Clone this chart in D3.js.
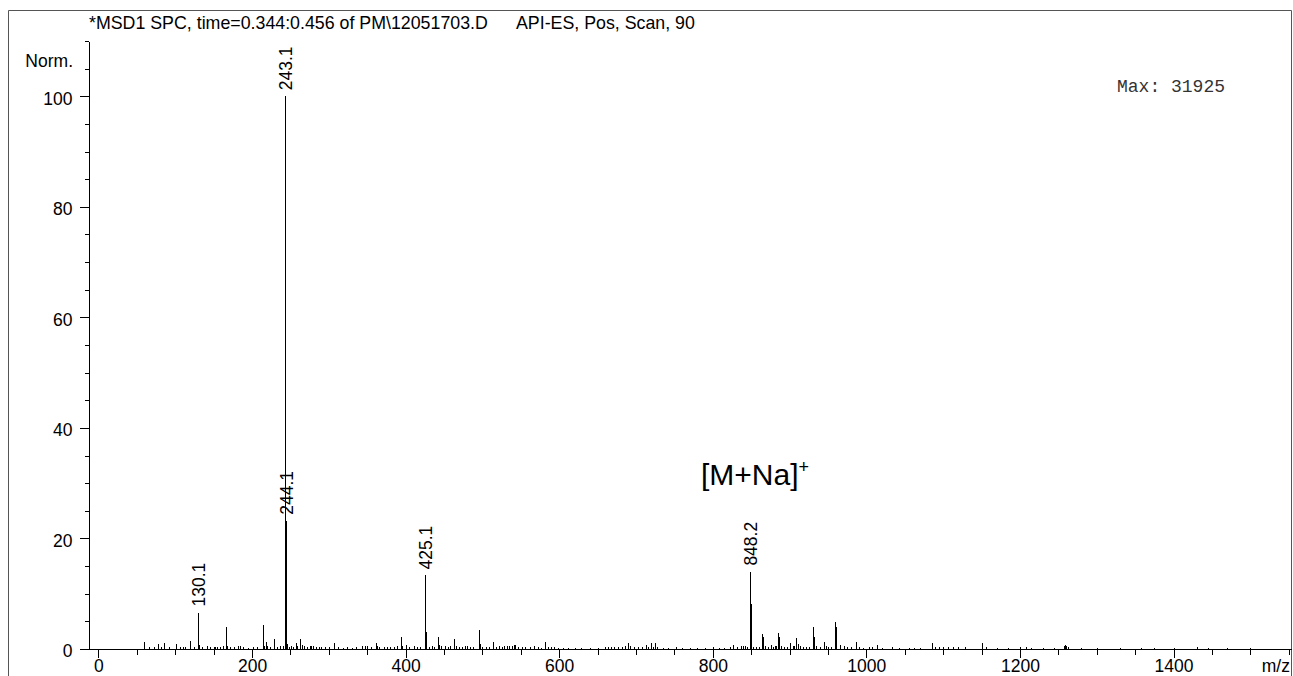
<!DOCTYPE html>
<html>
<head>
<meta charset="utf-8">
<script src="https://cdn.jsdelivr.net/npm/d3@7"></script>
<style>
  html, body { margin: 0; padding: 0; background: #fff; }
  svg { display: block; font-family: Arial, "Liberation Sans", sans-serif; }
</style>
</head>
<body>
<svg id="chart" width="1293" height="676"></svg>
<script>
// spectrum peaks, m/z and normalised abundance (% of base peak)
const peakMz = [
  59, 66, 72, 77, 81, 86, 92, 101, 106, 110, 113, 119, 124, 130.1, 131.1, 135, 141.6, 145, 150, 152,
  155, 158, 162, 166, 167, 171, 176, 182, 184, 188, 195, 201, 206, 214, 215, 217.6, 220, 224, 228, 232,
  236, 240, 243.1, 244.1, 245.1, 248, 251, 253, 256.7, 259, 262, 263, 265, 268, 271, 275, 277, 280, 283, 287,
  290, 295, 300, 306.6, 312, 318, 324, 330, 336, 343, 347, 350, 355, 361, 363, 366, 372, 376, 380, 385,
  389, 393.5, 395, 400, 404, 411, 415, 419, 425.1, 426.1, 430, 434, 437, 442, 443, 446, 451, 455, 458, 463.5,
  465, 470, 474, 477, 480, 484, 488, 495.5, 496.5, 500, 505, 509, 514, 518, 522, 525, 528, 532, 535, 538,
  541, 543, 546, 551, 556, 562, 567, 572, 576, 581, 585, 590, 593, 598, 605, 612, 620, 628, 640, 651,
  660, 664, 667, 672, 677, 682, 686, 690, 692, 697, 703, 708, 712.7, 716, 719, 722, 724.5, 728, 735, 742,
  752, 760, 770, 780, 790, 800, 808, 815, 822, 827, 832, 836.5, 839, 842, 845, 848.2, 849.2, 850.2, 852, 856,
  860, 864.6, 866, 868, 872, 876, 878, 880.6, 883, 885.4, 886.7, 889, 893, 897, 901, 904, 906, 908, 909, 911,
  914, 917, 921, 925, 930.5, 931.8, 935, 940, 945, 947, 950, 954, 958.7, 960, 961, 965.5, 970.6, 975, 980, 987,
  991, 995, 1004, 1008, 1014, 1020, 1033, 1042, 1055, 1062, 1070, 1085, 1090, 1095, 1100, 1106, 1113, 1120, 1128, 1151,
  1156, 1170, 1185, 1200, 1208, 1215, 1230, 1245, 1258, 1259, 1260, 1262, 1280, 1300, 1330, 1358, 1375, 1400, 1430, 1445,
  1470, 1500
];
const peakAbund = [
  1.2, 0.3, 0.4, 0.85, 0.3, 1.0, 0.3, 0.85, 0.3, 0.4, 0.3, 1.5, 0.3, 6.6, 0.8, 0.3, 0.5, 0.3, 0.3, 0.4,
  0.4, 0.4, 0.5, 3.9, 0.6, 0.3, 0.3, 0.5, 0.5, 0.3, 0.2, 0.3, 0.3, 4.3, 0.5, 1.3, 0.5, 0.3, 1.8, 0.3,
  0.5, 0.5, 100, 23.2, 0.9, 0.4, 0.5, 0.4, 1.0, 0.5, 1.8, 0.8, 0.8, 0.5, 0.4, 0.5, 0.5, 0.5, 0.4, 0.4,
  0.3, 0.4, 0.3, 1.0, 0.3, 0.2, 0.3, 0.2, 0.3, 0.5, 0.6, 0.5, 0.3, 1.1, 0.5, 0.3, 0.3, 0.4, 0.3, 0.3,
  0.5, 2.2, 0.5, 0.7, 0.3, 0.6, 0.3, 0.3, 13.3, 3.1, 0.3, 0.5, 0.4, 2.2, 0.8, 0.5, 0.5, 0.3, 0.5, 1.8,
  0.6, 0.3, 0.3, 0.5, 0.5, 0.3, 0.3, 3.5, 0.9, 0.3, 0.3, 0.4, 1.2, 0.4, 0.5, 0.4, 0.6, 0.5, 0.6, 0.5,
  0.8, 0.8, 0.4, 0.3, 0.3, 0.3, 0.5, 0.3, 0.2, 1.3, 0.3, 0.3, 0.3, 0.2, 0.2, 0.2, 0.2, 0.2, 0.2, 0.2,
  0.3, 0.4, 0.4, 0.3, 0.3, 0.4, 0.5, 1.0, 0.5, 0.3, 0.3, 0.4, 0.7, 0.4, 1.0, 0.4, 1.0, 0.3, 0.2, 0.2,
  0.3, 0.2, 0.2, 0.2, 0.2, 0.3, 0.2, 0.2, 0.3, 0.8, 0.3, 0.5, 0.6, 0.5, 0.3, 14.0, 8.2, 3.7, 0.4, 0.3,
  0.3, 2.7, 2.2, 0.5, 0.3, 0.7, 0.4, 0.5, 0.6, 2.9, 2.2, 0.5, 0.3, 0.4, 1.1, 0.5, 0.6, 1.9, 1.2, 0.9,
  0.5, 0.4, 0.3, 0.3, 3.9, 2.2, 0.5, 0.3, 1.3, 0.5, 0.3, 0.4, 4.8, 4.0, 1.4, 0.8, 0.5, 0.3, 0.3, 1.3,
  0.3, 0.2, 0.4, 0.3, 0.7, 0.2, 0.3, 0.2, 0.2, 0.2, 0.2, 1.1, 0.3, 0.3, 0.3, 0.3, 0.3, 0.3, 0.3, 1.1,
  0.3, 0.2, 0.2, 0.3, 0.3, 0.2, 0.2, 0.2, 0.5, 0.8, 0.6, 0.3, 0.2, 0.2, 0.2, 0.2, 0.2, 0.2, 0.3, 0.2,
  0.2, 0.2
];

// labelled peaks
const labelMz = [130.1, 243.1, 244.1, 425.1, 848.2];
const labelText = ['130.1', '243.1', '244.1', '425.1', '848.2'];

// axis labels
const xTickLabels = [0, 200, 400, 600, 800, 1000, 1200, 1400];
const yTickLabels = [0, 20, 40, 60, 80, 100];

const titleLeft = '*MSD1 SPC, time=0.344:0.456 of PM\\12051703.D';
const titleRight = 'API-ES, Pos, Scan, 90';
const maxText = 'Max: 31925';

const svg = d3.select('#chart');

const x = d3.scaleLinear().domain([-24, 1553]).range([80, 1291]);
const y = d3.scaleLinear().domain([0, 110]).range([649, 41]);
const axisX = Math.round(x(0)) - 9.5; // y axis sits a little left of m/z 0

// frame
svg.append('path')
  .attr('d', 'M8.5,676 V10.5 H1291.5 V676')
  .attr('fill', 'none')
  .attr('stroke', '#555')
  .attr('stroke-width', 1);

// title
svg.append('text').attr('x', 89).attr('y', 28.5)
  .attr('font-size', 17.8).text(titleLeft);
svg.append('text').attr('x', 516).attr('y', 28.5)
  .attr('font-size', 17.8).text(titleRight);

// x axis: minor ticks every 50, major (labelled) every 200
const gxMinor = svg.append('g')
  .attr('transform', 'translate(0,649)')
  .call(d3.axisBottom(x).tickValues(d3.range(0, 1551, 50)).tickSize(6).tickSizeOuter(0).tickFormat(''));
const gxMajor = svg.append('g')
  .attr('transform', 'translate(0,649)')
  .call(d3.axisBottom(x).tickValues(xTickLabels).tickSize(9).tickPadding(2).tickSizeOuter(0).tickFormat(d3.format('d')));
gxMajor.select('.domain').remove();

// y axis
const gyMinor = svg.append('g')
  .attr('transform', `translate(${axisX},0)`)
  .call(d3.axisLeft(y).tickValues(d3.range(0, 111, 5)).tickSize(4).tickSizeOuter(0).tickFormat(''));
const gyMajor = svg.append('g')
  .attr('transform', `translate(${axisX},0)`)
  .call(d3.axisLeft(y).tickValues(yTickLabels).tickSize(9).tickPadding(7).tickSizeOuter(0).tickFormat(d3.format('d')));
gyMajor.select('.domain').remove();
gyMajor.selectAll('text').attr('dy', '0.45em');

svg.selectAll('.tick line, .domain')
  .attr('stroke', '#000')
  .attr('shape-rendering', 'crispEdges');
svg.selectAll('.tick text')
  .attr('font-family', 'Arial, "Liberation Sans", sans-serif')
  .attr('font-size', 17.5)
  .attr('fill', '#000');

svg.append('text').attr('x', 73).attr('y', 66.5)
  .attr('text-anchor', 'end').attr('font-size', 17.5).text('Norm.');
svg.append('text').attr('x', 1290).attr('y', 672)
  .attr('text-anchor', 'end').attr('font-size', 17.5).text('m/z');

// peaks
const peaks = peakMz.map((mz, i) => ({ mz: mz, v: peakAbund[i] }));
svg.append('g')
  .selectAll('line')
  .data(peaks)
  .join('line')
  .attr('x1', d => Math.round(x(d.mz)) + 0.5)
  .attr('x2', d => Math.round(x(d.mz)) + 0.5)
  .attr('y1', y(0))
  .attr('y2', d => y(d.v))
  .attr('stroke', '#000')
  .attr('stroke-width', 1)
  .attr('shape-rendering', 'crispEdges');

// peak labels, rotated
labelMz.forEach((mz, i) => {
  const v = peakAbund[peakMz.indexOf(mz)];
  const px = Math.round(x(mz)) + 0.5;
  svg.append('text')
    .attr('transform', `translate(${px},${y(v) - 6}) rotate(-90)`)
    .attr('dy', '0.36em')
    .attr('font-size', 17.5)
    .text(labelText[i]);
});

// Max annotation
svg.append('text').attr('x', 1117).attr('y', 92.3)
  .attr('font-family', '"Liberation Mono", "Courier New", monospace')
  .attr('font-size', 18)
  .attr('fill', '#333')
  .text(maxText);

// [M+Na]+ annotation
const ann = svg.append('text').attr('x', 701).attr('y', 485).attr('font-size', 30);
ann.append('tspan').text('[M+Na]');
ann.append('tspan').attr('dy', -12).attr('font-size', 18).text('+');
</script>
</body>
</html>
